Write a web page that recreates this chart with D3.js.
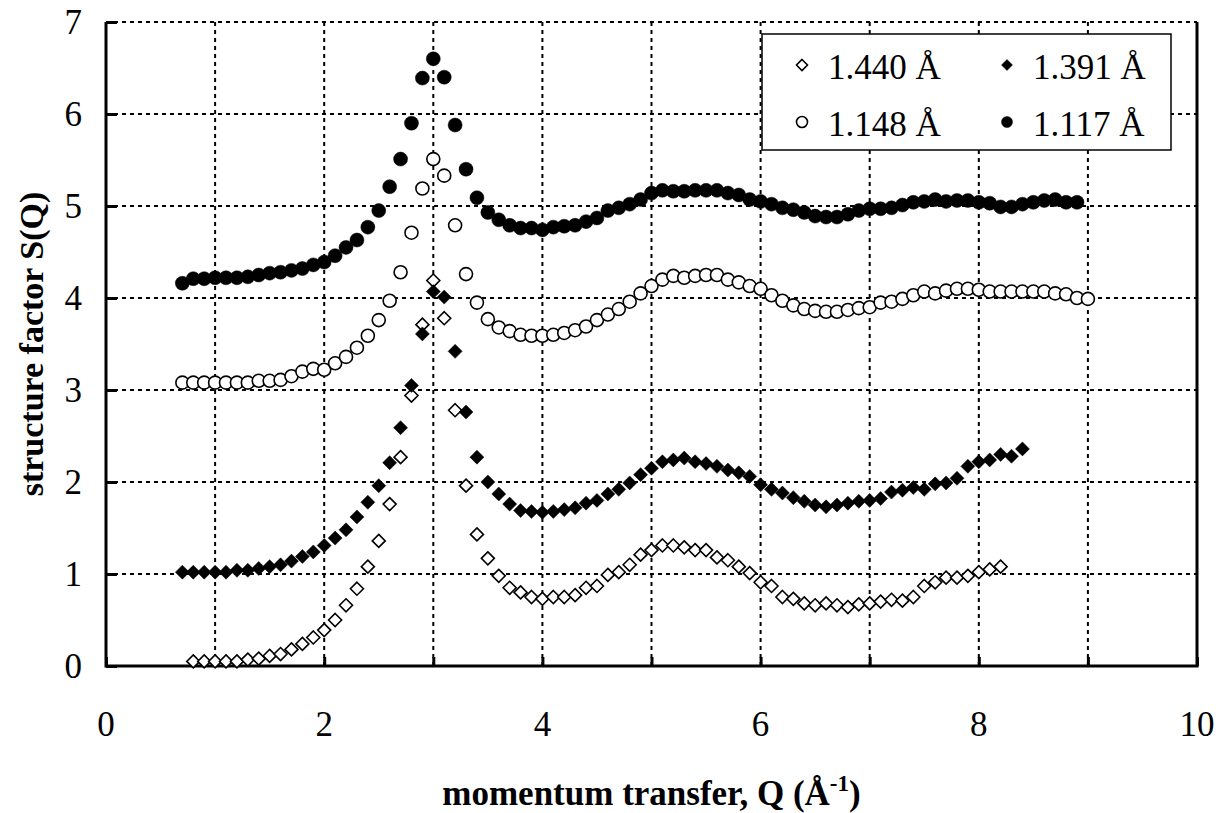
<!DOCTYPE html>
<html>
<head>
<meta charset="utf-8">
<script src="https://cdn.jsdelivr.net/npm/d3@7"></script>
<style>
  body { margin: 0; background: #fff; }
  text { font-family: "Liberation Serif", "Times New Roman", serif; fill: #000; }
</style>
</head>
<body>
<div id="chart"></div>
<script>

// S(Q), [Q, S] pairs
var s1440 = [[0.8,0.05],[0.9,0.05],[1.0,0.05],[1.1,0.05],[1.2,0.05],[1.3,0.07],[1.4,0.08],[1.5,0.11],[1.6,0.13],[1.7,0.18],
  [1.8,0.24],[1.9,0.31],[2.0,0.39],[2.1,0.50],[2.2,0.66],[2.3,0.84],[2.4,1.08],[2.5,1.36],[2.6,1.76],[2.7,2.27],
  [2.8,2.94],[2.9,3.71],[3.0,4.19],[3.1,3.78],[3.2,2.78],[3.3,1.96],[3.4,1.43],[3.5,1.17],[3.6,0.98],[3.7,0.85],
  [3.8,0.80],[3.9,0.75],[4.0,0.73],[4.1,0.75],[4.2,0.75],[4.3,0.77],[4.4,0.85],[4.5,0.87],[4.6,0.99],[4.7,1.02],
  [4.8,1.10],[4.9,1.21],[5.0,1.26],[5.1,1.31],[5.2,1.31],[5.3,1.29],[5.4,1.26],[5.5,1.26],[5.6,1.18],[5.7,1.15],
  [5.8,1.08],[5.9,1.01],[6.0,0.91],[6.1,0.87],[6.2,0.75],[6.3,0.73],[6.4,0.68],[6.5,0.66],[6.6,0.68],[6.7,0.66],
  [6.8,0.64],[6.9,0.67],[7.0,0.68],[7.1,0.70],[7.2,0.72],[7.3,0.71],[7.4,0.75],[7.5,0.87],[7.6,0.91],[7.7,0.96],
  [7.8,0.96],[7.9,0.98],[8.0,1.02],[8.1,1.05],[8.2,1.08]];

var s1391 = [[0.7,1.02],[0.8,1.02],[0.9,1.02],[1.0,1.02],[1.1,1.02],[1.2,1.04],[1.3,1.04],[1.4,1.06],[1.5,1.08],[1.6,1.10],
  [1.7,1.14],[1.8,1.19],[1.9,1.24],[2.0,1.31],[2.1,1.39],[2.2,1.48],[2.3,1.62],[2.4,1.78],[2.5,1.96],[2.6,2.21],
  [2.7,2.59],[2.8,3.05],[2.9,3.61],[3.0,4.07],[3.1,4.01],[3.2,3.42],[3.3,2.76],[3.4,2.27],[3.5,2.00],[3.6,1.87],
  [3.7,1.76],[3.8,1.69],[3.9,1.68],[4.0,1.67],[4.1,1.68],[4.2,1.70],[4.3,1.72],[4.4,1.77],[4.5,1.80],[4.6,1.87],
  [4.7,1.92],[4.8,1.99],[4.9,2.08],[5.0,2.15],[5.1,2.22],[5.2,2.24],[5.3,2.26],[5.4,2.22],[5.5,2.20],[5.6,2.17],
  [5.7,2.13],[5.8,2.10],[5.9,2.06],[6.0,1.97],[6.1,1.92],[6.2,1.88],[6.3,1.83],[6.4,1.79],[6.5,1.75],[6.6,1.73],
  [6.7,1.75],[6.8,1.77],[6.9,1.79],[7.0,1.80],[7.1,1.82],[7.2,1.89],[7.3,1.91],[7.4,1.94],[7.5,1.92],[7.6,1.98],
  [7.7,1.99],[7.8,2.04],[7.9,2.17],[8.0,2.22],[8.1,2.24],[8.2,2.30],[8.3,2.28],[8.4,2.36]];

var s1148 = [[0.7,3.08],[0.8,3.08],[0.9,3.08],[1.0,3.08],[1.1,3.08],[1.2,3.08],[1.3,3.08],[1.4,3.10],[1.5,3.10],[1.6,3.11],
  [1.7,3.15],[1.8,3.20],[1.9,3.23],[2.0,3.22],[2.1,3.29],[2.2,3.36],[2.3,3.46],[2.4,3.59],[2.5,3.76],[2.6,3.97],
  [2.7,4.28],[2.8,4.71],[2.9,5.19],[3.0,5.51],[3.1,5.33],[3.2,4.79],[3.3,4.26],[3.4,3.95],[3.5,3.77],[3.6,3.68],
  [3.7,3.64],[3.8,3.60],[3.9,3.59],[4.0,3.59],[4.1,3.60],[4.2,3.62],[4.3,3.65],[4.4,3.69],[4.5,3.76],[4.6,3.82],
  [4.7,3.88],[4.8,3.96],[4.9,4.05],[5.0,4.13],[5.1,4.20],[5.2,4.24],[5.3,4.22],[5.4,4.24],[5.5,4.25],[5.6,4.25],
  [5.7,4.20],[5.8,4.17],[5.9,4.13],[6.0,4.10],[6.1,4.03],[6.2,3.97],[6.3,3.92],[6.4,3.88],[6.5,3.86],[6.6,3.85],
  [6.7,3.85],[6.8,3.87],[6.9,3.89],[7.0,3.90],[7.1,3.95],[7.2,3.96],[7.3,3.99],[7.4,4.03],[7.5,4.07],[7.6,4.05],
  [7.7,4.08],[7.8,4.10],[7.9,4.10],[8.0,4.09],[8.1,4.07],[8.2,4.07],[8.3,4.07],[8.4,4.07],[8.5,4.07],[8.6,4.07],
  [8.7,4.05],[8.8,4.04],[8.9,4.00],[9.0,3.99]];

var s1117 = [[0.7,4.16],[0.8,4.21],[0.9,4.21],[1.0,4.22],[1.1,4.22],[1.2,4.22],[1.3,4.23],[1.4,4.25],[1.5,4.27],[1.6,4.28],
  [1.7,4.30],[1.8,4.32],[1.9,4.36],[2.0,4.39],[2.1,4.46],[2.2,4.55],[2.3,4.63],[2.4,4.77],[2.5,4.95],[2.6,5.21],
  [2.7,5.51],[2.8,5.90],[2.9,6.39],[3.0,6.60],[3.1,6.40],[3.2,5.88],[3.3,5.40],[3.4,5.09],[3.5,4.93],[3.6,4.85],
  [3.7,4.79],[3.8,4.76],[3.9,4.76],[4.0,4.74],[4.1,4.77],[4.2,4.78],[4.3,4.79],[4.4,4.83],[4.5,4.87],[4.6,4.95],
  [4.7,4.98],[4.8,5.02],[4.9,5.07],[5.0,5.14],[5.1,5.17],[5.2,5.16],[5.3,5.16],[5.4,5.17],[5.5,5.17],[5.6,5.17],
  [5.7,5.14],[5.8,5.12],[5.9,5.07],[6.0,5.05],[6.1,5.02],[6.2,4.98],[6.3,4.96],[6.4,4.93],[6.5,4.89],[6.6,4.88],
  [6.7,4.88],[6.8,4.91],[6.9,4.95],[7.0,4.97],[7.1,4.97],[7.2,4.98],[7.3,5.01],[7.4,5.04],[7.5,5.05],[7.6,5.07],
  [7.7,5.05],[7.8,5.06],[7.9,5.06],[8.0,5.04],[8.1,5.03],[8.2,4.99],[8.3,4.99],[8.4,5.02],[8.5,5.04],[8.6,5.06],
  [8.7,5.07],[8.8,5.04],[8.9,5.04]];

var xTicks = [0, 1, 2, 3, 4, 5, 6, 7, 8, 9, 10],
    xLabels = [0, 2, 4, 6, 8, 10],
    yTicks = [0, 1, 2, 3, 4, 5, 6, 7];

var series = [
  {label: "1.440 Å", data: s1440, shape: "diamond", filled: false},
  {label: "1.391 Å", data: s1391, shape: "diamond", filled: true},
  {label: "1.148 Å", data: s1148, shape: "circle", filled: false},
  {label: "1.117 Å", data: s1117, shape: "circle", filled: true}
];

var svg_dx = 1223,
    svg_dy = 813,
    plot = {left: 106, right: 1197, top: 22, bottom: 666};

var x = d3.scaleLinear().domain([0, 10]).range([plot.left, plot.right]),
    y = d3.scaleLinear().domain([0, 7]).range([plot.bottom, plot.top]);

var svg = d3.select("#chart")
            .append("svg")
            .attr("width", svg_dx)
            .attr("height", svg_dy);

svg.append("rect").attr("width", svg_dx).attr("height", svg_dy).attr("fill", "#fff");

// dotted grid
var grid = svg.append("g")
    .attr("stroke", "#000")
    .attr("stroke-width", 2)
    .attr("stroke-dasharray", "4,4");

grid.selectAll(".gx")
    .data(xTicks.filter(d => d > 0 && d < 10))
    .enter().append("line")
    .attr("x1", d => x(d)).attr("x2", d => x(d))
    .attr("y1", plot.top).attr("y2", plot.bottom);

grid.selectAll(".gy")
    .data(yTicks.filter(d => d > 0))
    .enter().append("line")
    .attr("x1", plot.left).attr("x2", plot.right)
    .attr("y1", d => y(d)).attr("y2", d => y(d));

// axis frame: left, bottom, right solid
svg.append("path")
    .attr("d", "M" + plot.left + "," + plot.top + "V" + plot.bottom + "H" + plot.right + "V" + plot.top)
    .attr("fill", "none")
    .attr("stroke", "#000")
    .attr("stroke-width", 3);

// inward ticks
var axis_x = d3.axisTop(x).tickValues(xTicks).tickSize(9).tickFormat(""),
    axis_y = d3.axisRight(y).tickValues(yTicks).tickSize(11).tickFormat("");

svg.append("g")
   .attr("transform", "translate(0," + plot.bottom + ")")
   .call(axis_x)
   .call(g => g.select(".domain").remove())
   .selectAll("line").attr("stroke-width", 3);

svg.append("g")
   .attr("transform", "translate(" + plot.left + ",0)")
   .call(axis_y)
   .call(g => g.select(".domain").remove())
   .selectAll("line").attr("stroke-width", 3);

// tick labels
svg.append("g").selectAll("text")
   .data(xLabels)
   .enter().append("text")
   .attr("x", d => x(d))
   .attr("y", 736)
   .attr("text-anchor", "middle")
   .style("font-size", "35px")
   .text(d => d);

svg.append("g").selectAll("text")
   .data(yTicks)
   .enter().append("text")
   .attr("x", 82)
   .attr("y", d => y(d) + 12)
   .attr("text-anchor", "end")
   .style("font-size", "35px")
   .text(d => d);

// axis titles
var xt = svg.append("text")
   .attr("x", (plot.left + plot.right) / 2)
   .attr("y", 805)
   .attr("text-anchor", "middle")
   .style("font-size", "35px")
   .style("font-weight", "bold");
xt.append("tspan").text("momentum transfer, Q (Å");
xt.append("tspan").attr("dy", -14).style("font-size", "23px").text("-1");
xt.append("tspan").attr("dy", 14).text(")");

svg.append("text")
   .attr("transform", "translate(43," + (plot.top + plot.bottom) / 2 + ") rotate(-90)")
   .attr("text-anchor", "middle")
   .style("font-size", "34px")
   .style("font-weight", "bold")
   .text("structure factor S(Q)");

function markerPath(shape, r) {
    if (shape === "diamond")
        return "M0," + (-r) + "L" + r + ",0L0," + r + "L" + (-r) + ",0Z";
    return d3.symbol().type(d3.symbolCircle).size(Math.PI * r * r)();
}

function drawMarks(g, s, r) {
    g.attr("d", markerPath(s.shape, r))
     .attr("fill", s.filled ? "#000" : "#fff")
     .attr("stroke", "#000")
     .attr("stroke-width", s.filled ? 0.5 : 1.6);
}

// points
series.forEach(s => {
    var r = s.shape === "diamond" ? (s.filled ? 7 : 6.5) : (s.filled ? 7 : 6.5);
    svg.append("g")
       .selectAll("path")
       .data(s.data)
       .enter().append("path")
       .attr("transform", d => "translate(" + x(d[0]) + "," + y(d[1]) + ")")
       .call(g => drawMarks(g, s, r));
});

// legend
var legend = svg.append("g");
legend.append("rect")
      .attr("x", 762).attr("y", 34)
      .attr("width", 409).attr("height", 116)
      .attr("fill", "#fff")
      .attr("stroke", "#000")
      .attr("stroke-width", 1.5);

var legPos = [[802, 65], [1007, 65], [802, 122], [1007, 122]];

series.forEach((s, i) => {
    var p = legPos[i];
    legend.append("path")
          .attr("transform", "translate(" + p[0] + "," + p[1] + ")")
          .call(g => drawMarks(g, s, 5.5));
    legend.append("text")
          .attr("x", p[0] + 26)
          .attr("y", p[1] + 14)
          .style("font-size", "35px")
          .text(s.label);
});

</script>
</body>
</html>
